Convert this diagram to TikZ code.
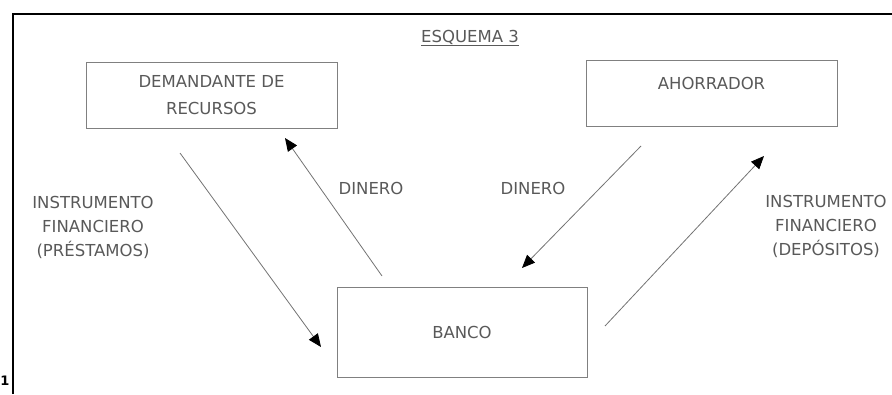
\documentclass[tikz,border=0pt]{standalone}
\usepackage{fontspec}
\setmainfont{DejaVu Sans}
\usetikzlibrary{arrows.meta}
\begin{document}
\begin{tikzpicture}[x=1pt,y=-1pt,
  lbl/.style={font=\fontsize{16.5}{24}\selectfont, text=black!65, align=center, inner sep=0pt},
  boxnode/.style={draw=black!50, line width=0.8pt, minimum width=251pt, minimum height=66pt,
    inner sep=0pt, font=\fontsize{16.5}{27}\selectfont, text=black!65, align=center},
  flow/.style={draw=black!55, line width=0.8pt, -{Triangle[length=13pt,width=11pt,color=black]}},
  frameline/.style={draw=black, line width=1.8pt}]
\useasboundingbox (0,0) rectangle (892,394);
% frame
\draw[frameline] (13,394) -- (13,14) -- (892,14);
\node[font=\bfseries\fontsize{13}{13}\selectfont, inner sep=0pt] (pg) at (5,381) {1};
% title
\node[lbl, anchor=base] (title) at (470,42) {\underline{ESQUEMA 3}};
% boxes
\node[boxnode] (dem) at (211.5,95) {DEMANDANTE DE\\RECURSOS};
\node[boxnode, text depth=20pt] (aho) at (711.5,93) {AHORRADOR};
\node[boxnode, minimum width=250pt, minimum height=90pt] (banco) at (462,332) {BANCO};
% side labels
\node[lbl] (instL) at (93,227) {INSTRUMENTO\\FINANCIERO\\(PRÉSTAMOS)};
\node[lbl] (instR) at (826,226) {INSTRUMENTO\\FINANCIERO\\(DEPÓSITOS)};
\node[lbl] (dinL) at (371,188) {DINERO};
\node[lbl] (dinR) at (533,188) {DINERO};
% arrow end points
\coordinate (a1s) at (180,153);
\coordinate (a1e) at (321,347);
\coordinate (a2s) at (382,276);
\coordinate (a2e) at (285,138);
\coordinate (a3s) at (641,146);
\coordinate (a3e) at (522,268);
\coordinate (a4s) at (605,326);
\coordinate (a4e) at (764,156);
\draw[flow] (a1s) -- (a1e);
\draw[flow] (a2s) -- (a2e);
\draw[flow] (a3s) -- (a3e);
\draw[flow] (a4s) -- (a4e);
\end{tikzpicture}
\end{document}
